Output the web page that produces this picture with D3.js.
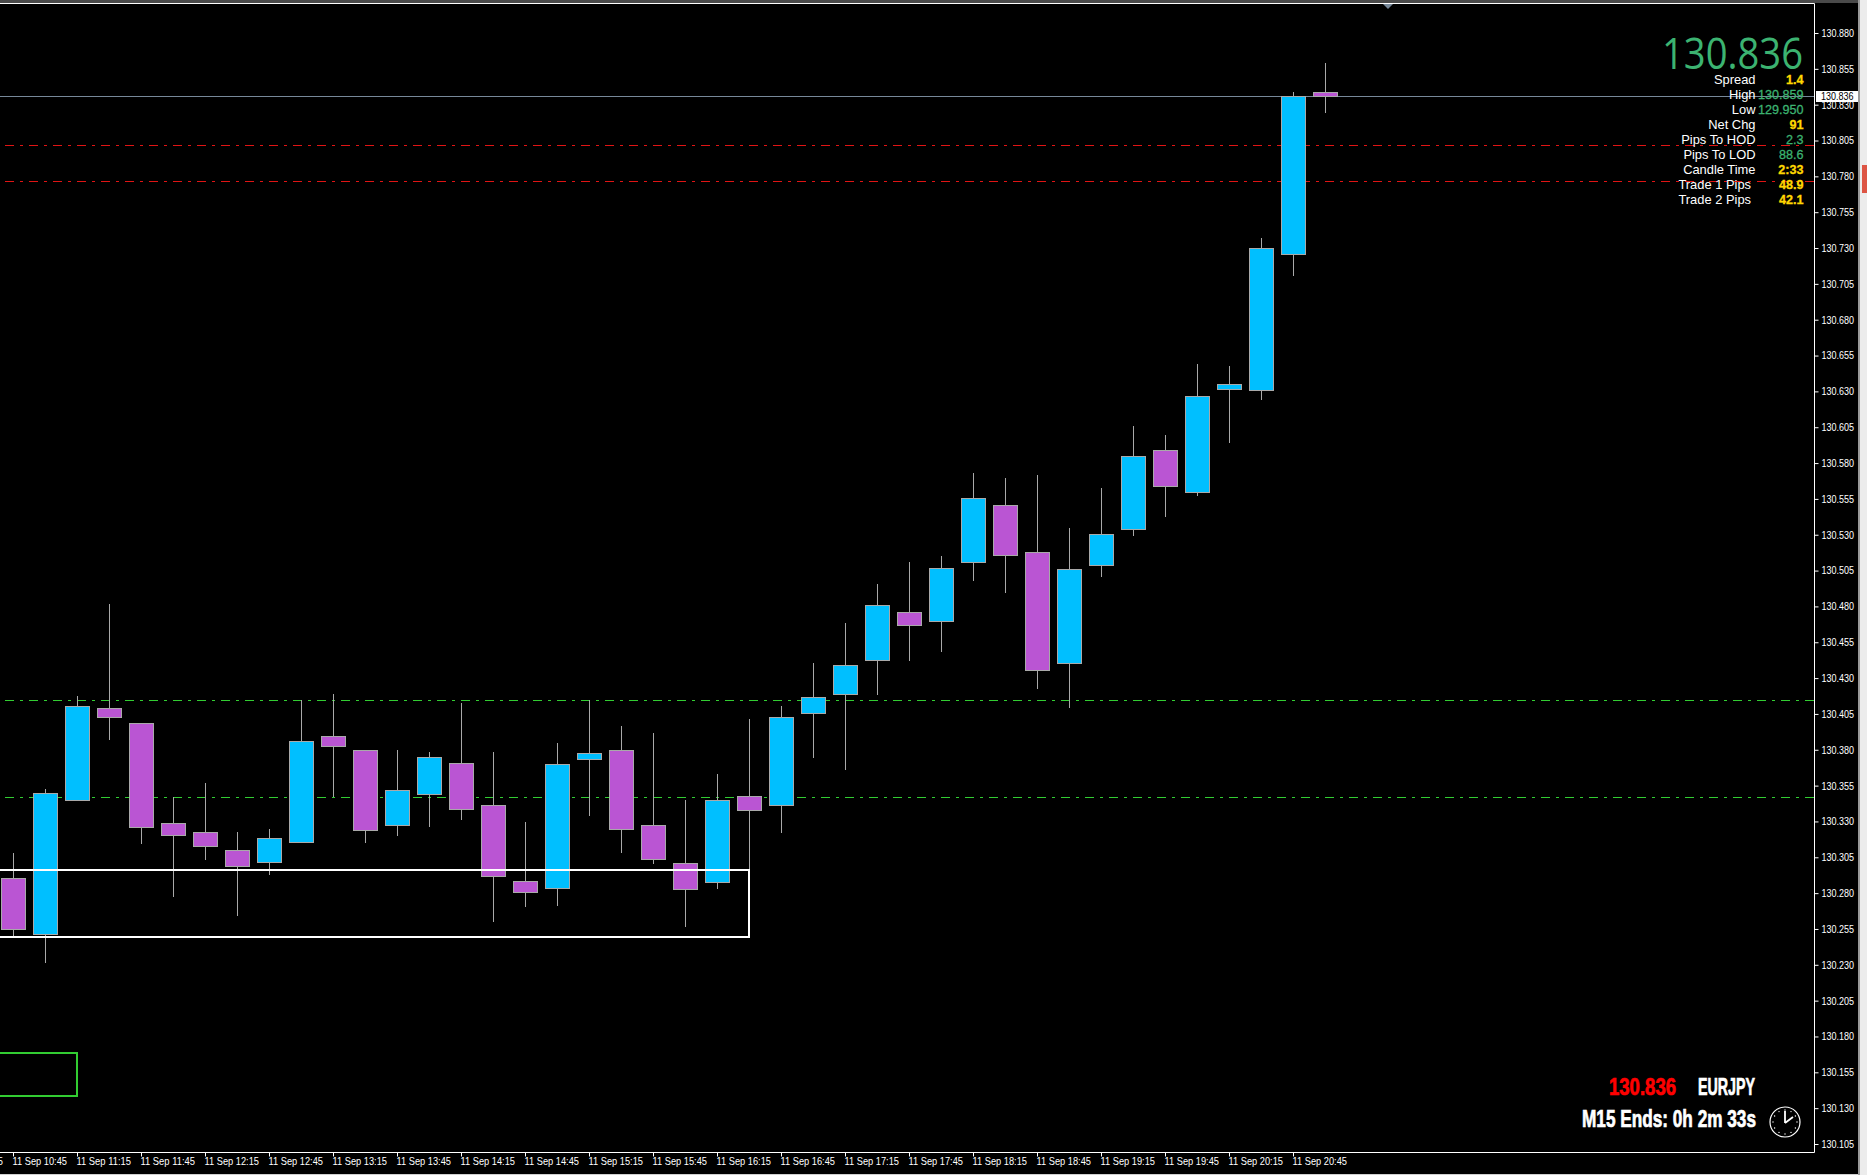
<!DOCTYPE html>
<html>
<head>
<meta charset="utf-8">
<title>EURJPY M15</title>
<script src="https://cdn.jsdelivr.net/npm/d3@7"></script>
<style>
  html, body { margin: 0; padding: 0; background: #000; overflow: hidden; }
  svg { display: block; }
  .axis text { fill: #fff; font-family: "Liberation Sans", sans-serif; font-size: 10.6px; }
  .axis line { stroke: #fff; }
</style>
</head>
<body>
<div id="chart"></div>
<script>
// Candles, oldest first
const opens = [130.2905,130.2515,130.3449,130.4091,130.3987,130.3289,130.3226,130.3101,130.3017,130.3156,130.3896,130.3798,130.3275,130.3491,130.3708,130.3415,130.2884,130.2835,130.3735,130.3798,130.3275,130.3010,130.2877,130.3477,130.3415,130.4056,130.4189,130.4426,130.4761,130.4698,130.5110,130.5507,130.5179,130.4405,130.5089,130.5340,130.5891,130.5598,130.6317,130.6310,130.7258,130.8388];
const highs = [130.3083,130.3523,130.4178,130.4820,130.3987,130.3470,130.3565,130.3223,130.3244,130.4147,130.4192,130.3798,130.3795,130.3781,130.4123,130.3781,130.3299,130.3850,130.4147,130.3969,130.3920,130.3453,130.3634,130.4018,130.4102,130.4402,130.4681,130.4953,130.5113,130.5155,130.5734,130.5699,130.5720,130.5350,130.5629,130.6062,130.5999,130.6494,130.6480,130.7373,130.8385,130.8594];
const lows = [130.2504,130.2316,130.3449,130.3871,130.3146,130.2776,130.3034,130.2637,130.2923,130.3156,130.3470,130.3153,130.3202,130.3258,130.3313,130.2602,130.2706,130.2713,130.3341,130.3083,130.3006,130.2567,130.2832,130.2958,130.3216,130.3746,130.3662,130.4185,130.4416,130.4485,130.4974,130.4897,130.4227,130.4088,130.5002,130.5288,130.5427,130.5567,130.5943,130.6243,130.7108,130.8245];
const closes = [130.2550,130.3498,130.4105,130.4028,130.3261,130.3205,130.3129,130.2989,130.3184,130.3861,130.3826,130.3240,130.3519,130.3749,130.3387,130.2919,130.2808,130.3701,130.3777,130.3247,130.3038,130.2829,130.3449,130.3380,130.4028,130.4168,130.4391,130.4810,130.4670,130.5068,130.5556,130.5159,130.4356,130.5061,130.5305,130.5849,130.5640,130.6268,130.6351,130.7300,130.8361,130.8361];
const isBull = [false,true,true,false,false,false,false,false,true,true,false,false,true,true,false,false,false,true,true,false,false,false,true,false,true,true,true,true,false,true,true,false,false,true,true,true,false,true,true,true,true,false];

// Axis labels
const priceTicks = [130.880,130.855,130.830,130.805,130.780,130.755,130.730,130.705,130.680,130.655,130.630,130.605,130.580,130.555,130.530,130.505,130.480,130.455,130.430,130.405,130.380,130.355,130.330,130.305,130.280,130.255,130.230,130.205,130.180,130.155,130.130,130.105];
const timeTicks = [-2,0,2,4,6,8,10,12,14,16,18,20,22,24,26,28,30,32,34,36,38,40];
const timeLabels = ["11 Sep 10:15","11 Sep 10:45","11 Sep 11:15","11 Sep 11:45","11 Sep 12:15","11 Sep 12:45","11 Sep 13:15","11 Sep 13:45","11 Sep 14:15","11 Sep 14:45","11 Sep 15:15","11 Sep 15:45","11 Sep 16:15","11 Sep 16:45","11 Sep 17:15","11 Sep 17:45","11 Sep 18:15","11 Sep 18:45","11 Sep 19:15","11 Sep 19:45","11 Sep 20:15","11 Sep 20:45"];

// Horizontal levels and boxes
const redLevels = [130.8019,130.7768];
const greenLevels = [130.4147,130.3470];
const lastPrice = 130.836;
const whiteBox = [-3,23,130.2965,130.2497];
const greenBox = [-3,2,130.1688,130.1388];

// Info panel
const hudLabels = ["Spread","High","Low","Net Chg","Pips To HOD","Pips To LOD","Candle Time","Trade 1 Pips","Trade 2 Pips"];
const hudValues = ["1.4","130.859","129.950","91","2.3","88.6","2:33","48.9","42.1"];
const hudIsGold = [true,false,false,true,false,false,true,true,true];

const width = 1867;
const height = 1175;
const plotRight = 1814.5;
const plotTop = 3.5;
const plotBottom = 1152.5;
const bullColor = "#00bfff";
const bearColor = "#ba55d3";
const wickColor = "#a9a9a9";
const seaGreen = "#3cb371";
const gold = "#ffd700";

var svg = d3.select("#chart")
  .append("svg")
  .attr("width", width)
  .attr("height", height)
  .style("background", "#000");

// X and Y scales, one candle every 32px
var xScale = d3.scaleLinear()
  .domain([0, 41])
  .range([13.5, 1325.5]);

var yScale = d3.scaleLinear()
  .domain([130.880, 130.105])
  .range([33.5, 1144.5]);

function crisp(v) { return Math.floor(v) + 0.5; }

// Window chrome around the chart
svg.append("rect").attr("x", 0).attr("y", 0).attr("width", width).attr("height", 3).attr("fill", "#4a4a4a");
svg.append("rect").attr("x", 0).attr("y", 1174).attr("width", width).attr("height", 1).attr("fill", "#d0d0d0");
svg.append("rect").attr("x", 1858).attr("y", 0).attr("width", 9).attr("height", height).attr("fill", "#ececec");
svg.append("rect").attr("x", 1858).attr("y", 0).attr("width", 2).attr("height", height).attr("fill", "#9a9a9a");
svg.append("rect").attr("x", 1862).attr("y", 165).attr("width", 5).attr("height", 28).attr("fill", "#dd5544");

// Dash-dot levels sit behind the candles
function drawLevels(levels, color) {
  svg.append("g").selectAll("line")
    .data(levels)
    .enter()
    .append("line")
    .attr("x1", 5)
    .attr("x2", plotRight)
    .attr("y1", function(d) { return crisp(yScale(d)); })
    .attr("y2", function(d) { return crisp(yScale(d)); })
    .attr("stroke", color)
    .attr("stroke-dasharray", "9,6,3,6");
}
drawLevels(redLevels, "#e01414");
drawLevels(greenLevels, "#32cd32");

// Last price line
svg.append("line")
  .attr("x1", 0)
  .attr("x2", plotRight)
  .attr("y1", crisp(yScale(lastPrice)))
  .attr("y2", crisp(yScale(lastPrice)))
  .attr("stroke", "#778899");

// Candles
var candles = svg.append("g").selectAll("g")
  .data(opens)
  .enter()
  .append("g");

candles.append("line")
  .attr("x1", function(d, i) { return xScale(i); })
  .attr("x2", function(d, i) { return xScale(i); })
  .attr("y1", function(d, i) { return Math.floor(yScale(highs[i])); })
  .attr("y2", function(d, i) { return Math.floor(yScale(lows[i])); })
  .attr("stroke", wickColor);

candles.append("rect")
  .attr("x", function(d, i) { return xScale(i) - 12; })
  .attr("width", 24)
  .attr("y", function(d, i) { return crisp(yScale(Math.max(d, closes[i]))); })
  .attr("height", function(d, i) { return crisp(yScale(Math.min(d, closes[i]))) - crisp(yScale(Math.max(d, closes[i]))); })
  .attr("fill", function(d, i) { return isBull[i] ? bullColor : bearColor; })
  .attr("stroke", wickColor);

// Drawn rectangles go over the candles
function drawBox(box, color) {
  svg.append("rect")
    .attr("x", Math.floor(xScale(box[0])))
    .attr("y", Math.round(yScale(box[2])))
    .attr("width", Math.floor(xScale(box[1])) - Math.floor(xScale(box[0])))
    .attr("height", Math.round(yScale(box[3])) - Math.round(yScale(box[2])))
    .attr("fill", "none")
    .attr("stroke", color)
    .attr("stroke-width", 2);
}
drawBox(whiteBox, "#fff");
drawBox(greenBox, "#32cd32");

// Chart frame
svg.append("path")
  .attr("d", "M0," + plotTop + "H" + plotRight + "V" + plotBottom + "H0")
  .attr("fill", "none")
  .attr("stroke", "#fff");

// Little shift marker at the top
svg.append("path")
  .attr("d", "M1383,4H1393L1388,9Z")
  .attr("fill", "#778899");

// Y Axis
svg.append("g")
  .attr("class", "axis")
  .attr("transform", "translate(" + plotRight + ",0)")
  .call(d3.axisRight(yScale).tickValues(priceTicks).tickFormat(d3.format(".3f")).tickSize(4).tickPadding(3).offset(0))
  .call(function(g) { g.select(".domain").remove(); })
  .selectAll("text")
  .attr("textLength", 32.5)
  .attr("lengthAdjust", "spacingAndGlyphs");

// X Axis
svg.append("g")
  .attr("class", "axis")
  .attr("transform", "translate(0," + plotBottom + ")")
  .call(d3.axisBottom(xScale).tickValues(timeTicks).tickFormat(function(d, i) { return timeLabels[i]; }).tickSize(4).tickPadding(1).offset(0))
  .call(function(g) { g.select(".domain").remove(); })
  .selectAll("text")
  .attr("text-anchor", "start")
  .attr("x", -1)
  .attr("textLength", 54.5)
  .attr("lengthAdjust", "spacingAndGlyphs");

// Last price tag on the axis
svg.append("rect")
  .attr("x", 1816).attr("y", 91).attr("width", 42).attr("height", 11)
  .attr("fill", "#fff");
svg.append("text")
  .attr("x", 1821)
  .attr("y", 100)
  .attr("textLength", 32.5)
  .attr("lengthAdjust", "spacingAndGlyphs")
  .attr("fill", "#000")
  .style("font-family", "Liberation Sans, sans-serif")
  .style("font-size", "10.6px")
  .text(d3.format(".3f")(lastPrice));

// Big price
svg.append("text")
  .attr("x", 1662)
  .attr("y", 69)
  .attr("textLength", 141)
  .attr("lengthAdjust", "spacingAndGlyphs")
  .attr("fill", seaGreen)
  .style("font-family", "Open Sans, sans-serif")
  .style("font-size", "43px")
  .text(d3.format(".3f")(lastPrice));

// Info rows
var rowHeight = 15;
var hud = svg.append("g")
  .style("font-family", "Liberation Sans, sans-serif")
  .style("font-size", "12.9px");

hud.selectAll(".hud-label")
  .data(hudLabels)
  .enter()
  .append("text")
  .attr("class", "hud-label")
  .attr("x", function(d, i) { return i > 6 ? 1751 : 1755.5; })
  .attr("y", function(d, i) { return 84 + i * rowHeight; })
  .attr("text-anchor", "end")
  .attr("fill", "#fff")
  .text(function(d) { return d; });

hud.selectAll(".hud-value")
  .data(hudValues)
  .enter()
  .append("text")
  .attr("class", "hud-value")
  .attr("x", 1803.5)
  .attr("y", function(d, i) { return 84 + i * rowHeight; })
  .attr("text-anchor", "end")
  .attr("fill", function(d, i) { return hudIsGold[i] ? gold : seaGreen; })
  .attr("stroke", function(d, i) { return hudIsGold[i] ? gold : seaGreen; })
  .attr("stroke-width", 0.3)
  .style("font-size", "12.6px")
  .style("font-weight", function(d, i) { return hudIsGold[i] ? "bold" : "normal"; })
  .text(function(d) { return d; });

// Bottom right block, squeezed bold text
function heavyText(x, y, len, color, str) {
  svg.append("text")
    .attr("x", x)
    .attr("y", y)
    .attr("textLength", len)
    .attr("lengthAdjust", "spacingAndGlyphs")
    .attr("fill", color)
    .attr("stroke", color)
    .attr("stroke-width", 0.7)
    .style("font-family", "Liberation Sans, sans-serif")
    .style("font-weight", "bold")
    .style("font-size", "24px")
    .text(str);
}
heavyText(1609, 1094.5, 67, "#ff0000", d3.format(".3f")(lastPrice));
heavyText(1698, 1094.5, 57, "#fff", "EURJPY");
heavyText(1582, 1126.5, 174, "#fff", "M15 Ends: 0h 2m 33s");

// Clock
var clock = svg.append("g").attr("transform", "translate(1785,1122)");
clock.append("circle")
  .attr("r", 15)
  .attr("fill", "none")
  .attr("stroke", "#fff")
  .attr("stroke-width", 1.2);
clock.selectAll(".mark")
  .data(d3.range(12))
  .enter()
  .append("circle")
  .attr("class", "mark")
  .attr("cx", function(d) { return 12 * Math.sin(d * Math.PI / 6); })
  .attr("cy", function(d) { return -12 * Math.cos(d * Math.PI / 6); })
  .attr("r", 0.7)
  .attr("fill", "#fff");
clock.append("path")
  .attr("d", "M0,1V-11M0,1L8,-5")
  .attr("fill", "none")
  .attr("stroke", "#fff")
  .attr("stroke-width", 1.8);
</script>
</body>
</html>
